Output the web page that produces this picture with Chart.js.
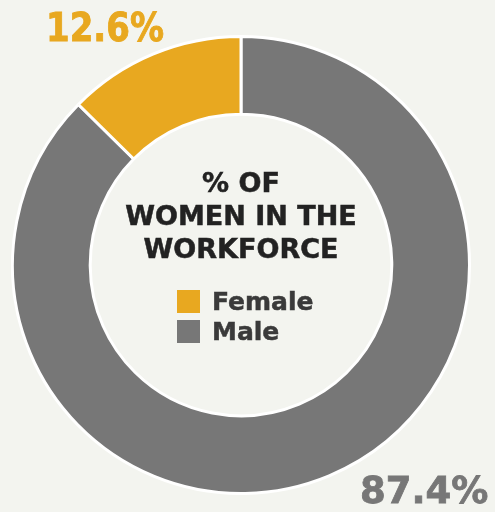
<!DOCTYPE html>
<html><head><meta charset="utf-8">
<script src="https://cdn.jsdelivr.net/npm/chart.js@4.4.0/dist/chart.umd.min.js"></script>
<style>
html,body{margin:0;padding:0;background:#f3f4ef;width:495px;height:512px;overflow:hidden;font-family:"DejaVu Sans",sans-serif;font-weight:bold;}
#wrap{position:absolute;left:11px;top:35px;width:460px;height:460px;}
.lbl{position:absolute;white-space:nowrap;line-height:1;-webkit-text-stroke:0.8px currentColor;}
#title{position:absolute;left:60px;width:362px;top:166px;text-align:center;color:#222;font-size:27px;line-height:33px;-webkit-text-stroke:0.5px currentColor;}
#legend{position:absolute;left:177px;top:286px;}
.item{display:flex;align-items:center;height:30px;color:#3a3a3a;font-size:25px;-webkit-text-stroke:0.5px currentColor;}
.sw{width:23px;height:23px;margin-right:12px;flex:none;}
</style></head>
<body>
<div id="wrap"><canvas id="c" width="460" height="460"></canvas></div>
<div id="title"></div>
<div id="legend"></div>
<div class="lbl" id="lf" style="left:46px;top:8px;font-size:34px;color:#e8a820;transform:scaleY(1.15);transform-origin:0 0;"></div>
<div class="lbl" id="lm" style="left:360px;top:472px;font-size:37px;color:#777777;"></div>
<script>
const titleLines = ["% OF", "WOMEN IN THE", "WORKFORCE"];
const categories = ["Male", "Female"];
const values = [87.4, 12.6];
const colors = ["#777777", "#e8a820"];
const legendOrder = ["Female", "Male"];

document.getElementById('title').innerHTML = titleLines.join('<br>');
const lg = document.getElementById('legend');
legendOrder.forEach(n => {
  const i = categories.indexOf(n);
  const d = document.createElement('div'); d.className='item';
  const s = document.createElement('div'); s.className='sw'; s.style.background = colors[i];
  const t = document.createElement('span'); t.textContent = n;
  d.appendChild(s); d.appendChild(t); lg.appendChild(d);
});
document.getElementById('lf').textContent = values[1].toFixed(1) + '%';
document.getElementById('lm').textContent = values[0].toFixed(1) + '%';

new Chart(document.getElementById('c'), {
  type: 'doughnut',
  data: { labels: categories, datasets: [{ data: values, backgroundColor: colors, borderColor: '#ffffff', borderWidth: 3 }] },
  options: {
    responsive: false, animation: false, cutout: '66%',
    layout: { padding: 0 },
    plugins: { legend: { display: false }, tooltip: { enabled: false } }
  }
});
</script>
</body></html>
